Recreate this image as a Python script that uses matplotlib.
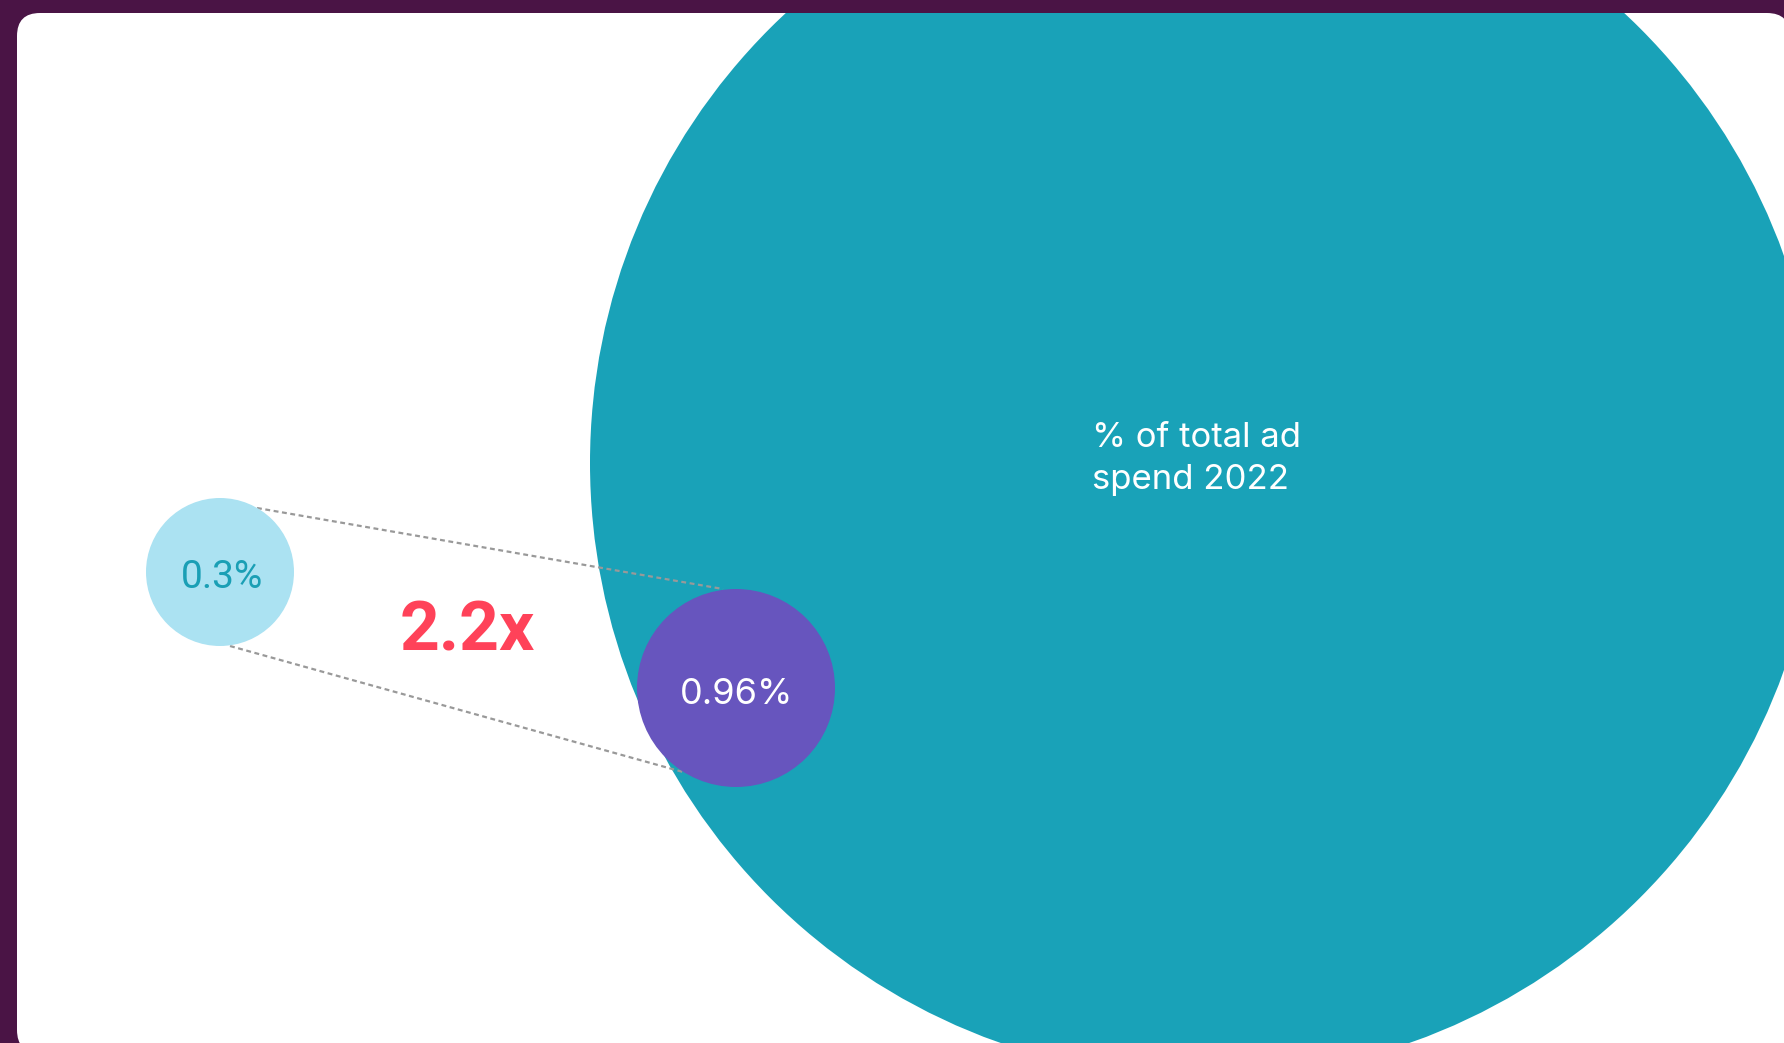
import matplotlib
matplotlib.use("Agg")
import matplotlib.pyplot as plt
from matplotlib.patches import Circle, FancyBboxPatch

# values shown on the chart
share_labels = ["0.3%", "0.96%"]
share_values = [0.3, 0.96]
total_label = "% of total ad\nspend 2022"
growth_label = "2.2x"

# layout in pixel units (figure is 1784 x 1043)
W, H = 1784, 1043
big_c, big_r = (1205, 463), 615
small_c, small_r = (220, 572), 74
mid_c, mid_r = (736, 688), 99

bg = "#4a1445"
teal = "#19a2b8"
purple = "#6755be"
light = "#abe2f2"
red = "#ff4259"

fig = plt.figure(figsize=(W / 100, H / 100), dpi=100, facecolor=bg)
ax = fig.add_axes([0, 0, 1, 1])
ax.set_xlim(0, W)
ax.set_ylim(H, 0)
ax.axis("off")

panel = FancyBboxPatch((17, 13), 1773, 1040, boxstyle="round,pad=0,rounding_size=23",
                       facecolor="white", edgecolor="none", zorder=0)
ax.add_patch(panel)

big = Circle(big_c, big_r, facecolor=teal, edgecolor="none", zorder=1)
ax.add_patch(big)
big.set_clip_path(panel)

# dotted connectors from the small circle to the middle one
ax.plot([257, 723], [508, 589], color="#999999", lw=1.6, ls=(0, (2.2, 1.6)), zorder=2)
ax.plot([230, 683], [646, 772], color="#999999", lw=1.6, ls=(0, (2.2, 1.6)), zorder=2)

ax.add_patch(Circle(small_c, small_r, facecolor=light, edgecolor="none", zorder=3))
ax.add_patch(Circle(mid_c, mid_r, facecolor=purple, edgecolor="none", zorder=3))

ax.text(small_c[0] + 2, small_c[1] + 5, share_labels[0], color="#1a9fb5", fontsize=28,
        family=["Roboto", "DejaVu Sans"], ha="center", va="center", zorder=4)
ax.text(mid_c[0] + 1, mid_c[1] + 7, share_labels[1], color="white", fontsize=26,
        family=["Inter", "DejaVu Sans"], ha="center", va="center", zorder=4)
ax.text(1092, 459, total_label, color="white", fontsize=25, linespacing=1.38,
        family=["Inter", "DejaVu Sans"], ha="left", va="center", zorder=4)
ax.text(467, 632, growth_label, color=red, fontsize=50, fontweight="bold",
        family=["Roboto", "DejaVu Sans"], ha="center", va="center", zorder=4)

fig.savefig("out.png", dpi=100, facecolor=bg)
